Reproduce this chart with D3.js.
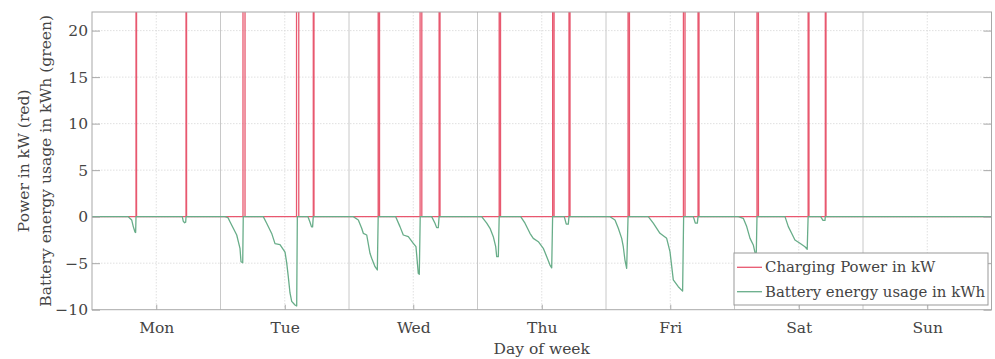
<!DOCTYPE html>
<html>
<head>
<meta charset="utf-8">
<script src="https://cdn.jsdelivr.net/npm/d3@7"></script>
<style>
  body { margin: 0; background: #fff; }
  svg { display: block; }
  text { font-family: "DejaVu Serif", serif; fill: #444; }
</style>
</head>
<body>
<svg id="chart" width="995" height="359"></svg>
<script>
// ---- data (time in hours from Monday 00:00) ----
var days = ['Mon', 'Tue', 'Wed', 'Thu', 'Fri', 'Sat', 'Sun'];
var yTicks = [-10, -5, 0, 5, 10, 15, 20];

// battery energy usage per trip: [hour, kWh]
var trips = [
  [[6.78, 0], [7.41, -0.35], [7.71, -1.07], [8.03, -1.65], [8.15, -1.7], [8.22, 0]],
  [[16.86, 0], [17.05, -0.5], [17.3, -0.65], [17.5, -0.6], [17.56, 0]],
  [[24.84, 0], [25.4, -0.1], [25.77, -0.54], [26.39, -1.25], [27.03, -1.97], [27.33, -2.69], [27.64, -3.4], [27.83, -4.84], [28.15, -4.95], [28.25, 0]],
  [[31.99, 0], [32.62, -0.7], [33.56, -1.8], [34.18, -2.9], [35.11, -3.0], [36.05, -3.8], [36.37, -5.0], [36.66, -6.45], [36.98, -8.2], [37.3, -9.1], [37.91, -9.5], [38.23, -9.6], [38.35, 0]],
  [[40.34, 0], [40.72, -0.6], [41.0, -1.1], [41.2, -1.1], [41.33, 0]],
  [[48.8, 0], [49.74, -0.35], [50.37, -1.25], [50.67, -1.79], [51.31, -1.97], [51.92, -3.94], [52.24, -4.47], [52.86, -5.38], [53.29, -5.73], [53.45, 0]],
  [[56.72, 0], [57.52, -1.07], [58.14, -1.97], [59.08, -2.15], [60.01, -2.86], [60.51, -3.23], [60.94, -6.09], [61.13, -6.2], [61.3, 0]],
  [[63.44, 0], [64.06, -0.7], [64.37, -1.18], [64.68, -1.18], [64.83, 0]],
  [[72.78, 0], [73.72, -0.7], [74.34, -1.25], [74.95, -2.15], [75.4, -3.23], [75.59, -4.3], [75.89, -4.3], [76.05, 0]],
  [[80.06, 0], [80.87, -0.7], [81.8, -1.79], [82.42, -2.33], [83.36, -2.69], [84.29, -3.4], [84.93, -4.3], [85.54, -5.2], [85.86, -5.5], [86.03, 0]],
  [[88.21, 0], [88.58, -0.8], [88.96, -0.8], [89.09, 0]],
  [[96.75, 0], [97.68, -0.35], [98.3, -1.25], [98.93, -2.33], [99.23, -3.23], [99.54, -4.66], [99.86, -5.55], [100.12, 0]],
  [[103.9, 0], [104.83, -0.7], [106.08, -1.79], [107.33, -2.33], [107.95, -3.76], [108.57, -6.8], [109.5, -7.53], [110.31, -8.0], [110.5, 0]],
  [[112.31, 0], [112.68, -0.7], [113.06, -0.7], [113.19, 0]],
  [[120.71, 0], [121.64, -0.18], [122.28, -1.07], [122.9, -2.33], [123.51, -3.04], [123.83, -3.87], [124.05, -4.5], [124.2, 0]],
  [[129.43, 0], [130.05, -1.07], [130.67, -1.79], [131.29, -2.5], [132.22, -2.86], [133.16, -3.23], [133.58, -3.5], [133.75, 0]],
  [[136.09, 0], [136.53, -0.4], [136.9, -0.4], [136.96, 0]]
];

// charging sessions: start / end hour, power in kW (off the top of the axis)
var chargeStart = [8.22, 17.56, 28.2, 38.2, 41.33, 53.45, 61.28, 64.83, 76.05, 86.03, 89.09, 100.12, 110.46, 113.19, 124.2, 133.75, 136.96];
var chargeEnd   = [8.32, 17.66, 28.58, 38.62, 41.46, 53.7, 61.6, 65.0, 76.3, 86.3, 89.28, 100.38, 110.76, 113.37, 124.47, 133.91, 137.09];
var chargePower = 50;

// ---- series ----
var battery = [[0, 0]];
trips.forEach(t => t.forEach(p => battery.push(p)));
battery.push([168, 0]);

var power = [[0, 0]];
chargeStart.forEach((s, i) => {
  power.push([s, 0], [s, chargePower], [chargeEnd[i], chargePower], [chargeEnd[i], 0]);
});
power.push([168, 0]);

// ---- layout ----
var svg = d3.select('#chart');
var plotLeft = 92, plotRight = 991.5, plotTop = 12, plotBottom = 309.7;
var fontSize = 15.5;
var legendFontSize = 14.9;
var red = '#e8586f';
var green = '#68ad89';
var axisColor = '#a8a8a8';

var x = d3.scaleLinear().domain([0, 168]).range([plotLeft, plotRight]);
var y = d3.scaleLinear().domain([-10, 22]).range([plotBottom, plotTop]);

svg.append('clipPath').attr('id', 'plot-clip')
  .append('rect')
  .attr('x', plotLeft).attr('y', plotTop)
  .attr('width', plotRight - plotLeft).attr('height', plotBottom - plotTop);

// grid
var grid = svg.append('g').attr('class', 'grid');
grid.selectAll('.hgrid')
  .data(yTicks.filter(v => v > -10))
  .enter().append('line')
  .attr('x1', plotLeft).attr('x2', plotRight)
  .attr('y1', d => y(d)).attr('y2', d => y(d))
  .attr('stroke', '#d8d8d8').attr('stroke-width', 0.8)
  .attr('stroke-dasharray', '1.5,1.5');
grid.selectAll('.vgrid')
  .data(days.map((d, i) => i * 24 + 12))
  .enter().append('line')
  .attr('x1', d => x(d)).attr('x2', d => x(d))
  .attr('y1', plotTop).attr('y2', plotBottom)
  .attr('stroke', '#d8d8d8').attr('stroke-width', 0.8)
  .attr('stroke-dasharray', '1.5,1.5');
grid.selectAll('.dayline')
  .data(d3.range(1, 7).map(i => i * 24))
  .enter().append('line')
  .attr('x1', d => x(d)).attr('x2', d => x(d))
  .attr('y1', plotTop).attr('y2', plotBottom)
  .attr('stroke', '#c8c8c8').attr('stroke-width', 1);

// lines
var line = d3.line().x(d => x(d[0])).y(d => y(d[1]));
var plot = svg.append('g').attr('clip-path', 'url(#plot-clip)');
plot.append('path')
  .datum(power)
  .attr('fill', 'none')
  .attr('stroke', red)
  .attr('stroke-width', 1.3)
  .attr('d', line);
plot.append('path')
  .datum(battery)
  .attr('fill', 'none')
  .attr('stroke', green)
  .attr('stroke-width', 1.3)
  .attr('stroke-linejoin', 'round')
  .attr('d', line);

// axes (MATLAB-style box with inward ticks)
function styleAxis(g) {
  g.select('.domain').remove();
  g.selectAll('.tick line').attr('stroke', axisColor);
  g.selectAll('.tick text')
    .attr('font-family', '"DejaVu Serif", serif')
    .attr('font-size', fontSize)
    .attr('fill', '#444');
}

svg.append('g')
  .attr('transform', `translate(${plotLeft},0)`)
  .call(d3.axisLeft(y).tickValues(yTicks).tickSize(-8).tickPadding(4))
  .call(styleAxis);
svg.append('g')
  .attr('transform', `translate(${plotRight},0)`)
  .call(d3.axisRight(y).tickValues(yTicks).tickSize(-8).tickFormat(''))
  .call(styleAxis);
svg.append('g')
  .attr('transform', `translate(0,${plotBottom})`)
  .call(d3.axisBottom(x).tickValues(days.map((d, i) => i * 24 + 12))
    .tickFormat((d, i) => days[i]).tickSize(-5).tickPadding(12))
  .call(styleAxis);

svg.append('rect')
  .attr('x', plotLeft).attr('y', plotTop)
  .attr('width', plotRight - plotLeft).attr('height', plotBottom - plotTop)
  .attr('fill', 'none')
  .attr('stroke', axisColor)
  .attr('stroke-width', 1);

// axis labels
svg.append('text')
  .attr('x', (plotLeft + plotRight) / 2).attr('y', 354)
  .attr('text-anchor', 'middle')
  .attr('font-size', fontSize)
  .text('Day of week');

var yLabel = svg.append('text')
  .attr('transform', `translate(0,${(plotTop + plotBottom) / 2}) rotate(-90)`)
  .attr('text-anchor', 'middle')
  .attr('font-size', fontSize);
yLabel.append('tspan').attr('x', 0).attr('y', 29).text('Power in kW (red)');
yLabel.append('tspan').attr('x', 0).attr('y', 51).text('Battery energy usage in kWh (green)');

// legend
var legendItems = [
  { label: 'Charging Power in kW', color: red },
  { label: 'Battery energy usage in kWh', color: green }
];
var legend = svg.append('g').attr('transform', 'translate(734,253)');
legend.append('rect')
  .attr('width', 254).attr('height', 52)
  .attr('fill', '#fff')
  .attr('stroke', '#999')
  .attr('stroke-width', 1);
var item = legend.selectAll('.item')
  .data(legendItems)
  .enter().append('g')
  .attr('transform', (d, i) => `translate(0,${14.3 + i * 24.4})`);
item.append('line')
  .attr('x1', 3).attr('x2', 28)
  .attr('stroke', d => d.color)
  .attr('stroke-width', 1.3);
item.append('text')
  .attr('x', 31).attr('y', 5)
  .attr('font-size', legendFontSize)
  .text(d => d.label);
</script>
</body>
</html>
